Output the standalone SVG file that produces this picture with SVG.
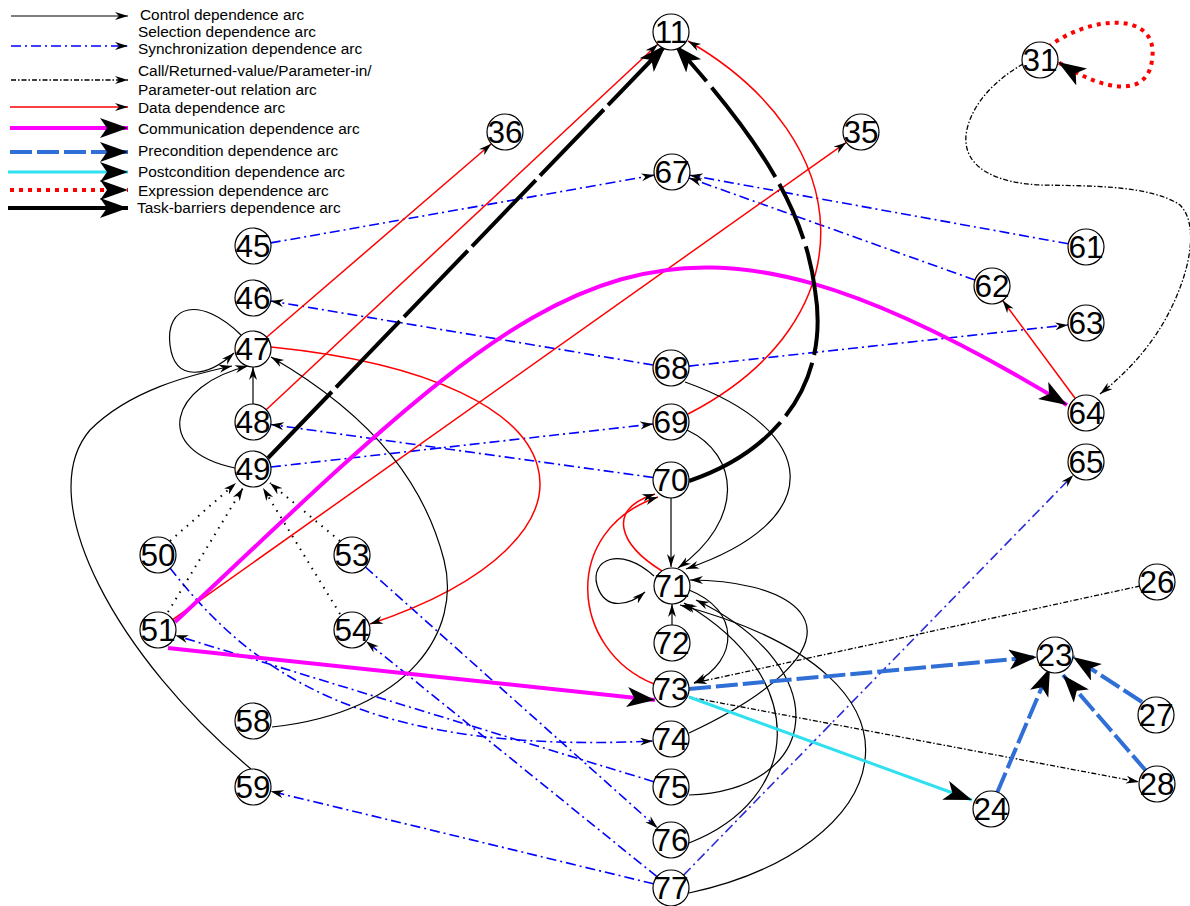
<svg xmlns="http://www.w3.org/2000/svg" width="1190" height="906" viewBox="0 0 1190 906">
<defs>
<style>
.bg{fill:#fff}
.ctl{stroke:#000;stroke-width:1.2;fill:none}
.sync{stroke:#0000ff;stroke-width:1.6;fill:none;stroke-dasharray:10 4 2 4}
.sync2{stroke:#2a2ad8;stroke-width:1.6;fill:none;stroke-dasharray:10 4 2 4}
.call{stroke:#000;stroke-width:1.3;fill:none;stroke-dasharray:5 2 1.5 2}
.dot{stroke:#000;stroke-width:2;fill:none;stroke-dasharray:1.5 6}
.data{stroke:#ff0000;stroke-width:1.5;fill:none}
.comm{stroke:#ff00ff;stroke-width:4;fill:none}
.pre{stroke:#2f6fd6;stroke-width:4;fill:none;stroke-dasharray:22 5}
.post{stroke:#30e0f0;stroke-width:3;fill:none}
.expr{stroke:#ff0000;stroke-width:4;fill:none;stroke-dasharray:4 5}
.task{stroke:#000;stroke-width:4;fill:none}
.gap{stroke-dasharray:92 6}
.gap2{stroke-dasharray:110 8 60 8}
.node circle{fill:#fff;stroke:#000;stroke-width:1.2}
.node text{font-family:"Liberation Sans",Arial,sans-serif;font-size:31.5px;text-anchor:middle;fill:#000}
.leg{font-family:"Liberation Sans",Arial,sans-serif;font-size:15.4px;fill:#000}
</style>
<marker id="a" markerUnits="userSpaceOnUse" markerWidth="14" markerHeight="9" refX="13" refY="4" orient="auto" viewBox="0 0 14 9">
<path d="M13,4 L0,0 L4,4 L0,8 z" fill="#000"/>
</marker>
<marker id="A" markerUnits="userSpaceOnUse" markerWidth="30" markerHeight="21" refX="28" refY="10" orient="auto" viewBox="0 0 30 21">
<path d="M28,10 L0,0 L7,10 L0,20 z" fill="#000"/>
</marker>
</defs>
<rect class="bg" x="0" y="0" width="1190" height="906"/>

<!-- legend -->
<g id="legend">
<line class="ctl" x1="11" y1="16" x2="128" y2="16" marker-end="url(#a)"/>
<text class="leg" x="140" y="19.5">Control dependence arc</text>
<text class="leg" x="138" y="36.7">Selection dependence arc</text>
<line class="sync" x1="11" y1="46" x2="128" y2="46" marker-end="url(#a)"/>
<text class="leg" x="138" y="54.3">Synchronization dependence arc</text>
<line class="call" x1="11" y1="80" x2="128" y2="80" marker-end="url(#a)"/>
<text class="leg" x="138" y="75.5">Call/Returned-value/Parameter-in/</text>
<text class="leg" x="138" y="94.5">Parameter-out relation arc</text>
<line class="data" x1="10" y1="107" x2="128" y2="107" marker-end="url(#a)"/>
<text class="leg" x="138" y="112.8">Data dependence arc</text>
<line class="comm" x1="10" y1="128" x2="128" y2="128" marker-end="url(#A)"/>
<text class="leg" x="138" y="133.5">Communication dependence arc</text>
<line class="pre" x1="10" y1="152" x2="128" y2="152" marker-end="url(#A)"/>
<text class="leg" x="138" y="156">Precondition dependence arc</text>
<line class="post" x1="8" y1="172" x2="128" y2="172" marker-end="url(#A)"/>
<text class="leg" x="138" y="176.8">Postcondition dependence arc</text>
<line class="expr" x1="10" y1="190" x2="128" y2="190" marker-end="url(#A)"/>
<text class="leg" x="138" y="195.5">Expression dependence arc</text>
<line class="task" x1="8" y1="208" x2="128" y2="208" marker-end="url(#A)"/>
<text class="leg" x="137" y="212.8">Task-barriers dependence arc</text>
</g>

<!-- connectors -->
<g id="connectors">
<!-- synchronization -->
<path class="sync" d="M270.7,242.9 L654.3,175.1" marker-end="url(#a)"/>
<path class="sync" d="M1068.3,243.8 L689.7,175.2" marker-end="url(#a)"/>
<path class="sync" d="M975,280 L689,178" marker-end="url(#a)"/>
<path class="sync" d="M653.2,365 L270.7,301" marker-end="url(#a)"/>
<path class="sync" d="M688.9,366.1 L1068.1,324.9" marker-end="url(#a)"/>
<path class="sync" d="M653.2,477.5 L270.8,424.5" marker-end="url(#a)"/>
<path class="sync" d="M270.9,467 L653.1,424" marker-end="url(#a)"/>
<path class="sync" d="M170,568 C250,670 360,755 653,741" marker-end="url(#a)"/>
<path class="sync" d="M653.8,781.7 L175.2,635.3" marker-end="url(#a)"/>
<path class="sync" d="M365.4,567 L657.6,828" marker-end="url(#a)"/>
<path class="sync" d="M657,876.7 L366,641.3" marker-end="url(#a)"/>
<path class="sync" d="M653.5,883.8 L270.5,791.2" marker-end="url(#a)"/>
<path class="sync2" d="M683.6,875.1 L1073.4,474.9" marker-end="url(#a)"/>

<!-- data -->
<path class="data" d="M266.6,337.3 L491.4,143.7" marker-end="url(#a)"/>
<path class="data" d="M266.2,409.7 L657.8,44.3" marker-end="url(#a)"/>
<path class="data" d="M172.7,619.6 L846.3,142.4" marker-end="url(#a)"/>
<path class="data" d="M1075.3,398.5 L1002.7,300.5" marker-end="url(#a)"/>
<path class="data" d="M271,347 C600,380 620,540 370,624" marker-end="url(#a)"/>
<path class="data" d="M688,414 C870,320 860,140 688,41" marker-end="url(#a)"/>
<path class="data" d="M654,684 C570,650 560,530 658,497" marker-end="url(#a)"/>
<path class="data" d="M662,571 C620,545 605,510 655,494" marker-end="url(#a)"/>

<!-- control -->
<path class="ctl" d="M241,335 C200,295 165,305 170,345 C175,385 210,375 234,353" marker-end="url(#a)"/>
<path class="ctl" d="M253,404 L253,367" marker-end="url(#a)"/>
<path class="ctl" d="M235,468 C150,450 170,385 248,366" marker-end="url(#a)"/>
<path class="ctl" d="M251,769 C120,660 30,500 90,430 C130,390 190,375 232,366" marker-end="url(#a)"/>
<path class="ctl" d="M272,727 C410,712 462,630 444,560 C426,490 380,420 271,357" marker-end="url(#a)"/>
<path class="ctl" d="M685,382 C820,430 830,520 686,569" marker-end="url(#a)"/>
<path class="ctl" d="M687,430 C740,455 745,520 678,568" marker-end="url(#a)"/>
<path class="ctl" d="M671,498 L671,567" marker-end="url(#a)"/>
<path class="ctl" d="M672,625 L672,604" marker-end="url(#a)"/>
<path class="ctl" d="M654,576 C620,545 590,560 597,585 C605,612 630,605 645,592" marker-end="url(#a)"/>
<path class="ctl" d="M689,590 C740,610 740,660 694,683" marker-end="url(#a)"/>
<path class="ctl" d="M689,733 C760,700 830,650 800,612 C780,588 730,580 690,580" marker-end="url(#a)"/>
<path class="ctl" d="M689,795 C820,790 840,670 696,600" marker-end="url(#a)"/>
<path class="ctl" d="M689,843 C800,800 815,680 684,603" marker-end="url(#a)"/>
<path class="ctl" d="M689,893 C890,850 960,680 680,605" marker-end="url(#a)"/>

<!-- call / parameter relations -->
<path class="call" d="M1023,64 C995,80 970,105 966,135 C963,170 1000,183 1040,185 C1090,186 1150,185 1180,205 C1200,225 1190,275 1165,320 C1145,355 1120,378 1100,394" marker-end="url(#a)"/>
<path class="call" d="M1140,586 L694,683" marker-end="url(#a)"/>
<path class="call" d="M689,697 L1139,782" marker-end="url(#a)"/>

<!-- dotted relations into 49 -->
<path class="dot" d="M170,541 L236,483" marker-end="url(#a)"/>
<path class="dot" d="M168,612 L243,488" marker-end="url(#a)"/>
<path class="dot" d="M340,541 L270,483" marker-end="url(#a)"/>
<path class="dot" d="M340,614 L263,488" marker-end="url(#a)"/>

<!-- communication -->
<path class="comm" d="M175,622 C555,265 647,150 1067,405" marker-end="url(#A)"/>
<path class="comm" d="M168,648 L655,700" marker-end="url(#A)"/>

<!-- precondition -->
<path class="pre" d="M689,689 L1037,657" marker-end="url(#A)"/>
<path class="pre" d="M997,793 L1050,668" marker-end="url(#A)"/>
<path class="pre" d="M1142,702 L1073,657" marker-end="url(#A)"/>
<path class="pre" d="M1147,772 L1063,675" marker-end="url(#A)"/>

<!-- postcondition -->
<path class="post" d="M689,697 L972,800" marker-end="url(#A)"/>

<!-- expression -->
<path class="expr" d="M1048,47 C1090,15 1160,10 1152,60 C1148,95 1110,95 1058,62" marker-end="url(#A)"/>

<!-- task barriers -->
<path class="task gap" d="M268,458 L666,45" marker-end="url(#A)"/>
<path class="task gap2" d="M689,481 C780,450 830,380 815,290 C805,210 760,140 675,45" marker-end="url(#A)"/>
</g>

<!-- nodes -->
<g id="n11" class="node"><circle cx="671" cy="32" r="18"/><text x="671" y="43">11</text></g>
<g id="n31" class="node"><circle cx="1040" cy="60" r="18"/><text x="1040" y="71">31</text></g>
<g id="n36" class="node"><circle cx="505" cy="132" r="18"/><text x="505" y="143">36</text></g>
<g id="n35" class="node"><circle cx="861" cy="132" r="18"/><text x="861" y="143">35</text></g>
<g id="n67" class="node"><circle cx="672" cy="172" r="18"/><text x="672" y="183">67</text></g>
<g id="n45" class="node"><circle cx="253" cy="246" r="18"/><text x="253" y="257">45</text></g>
<g id="n46" class="node"><circle cx="253" cy="298" r="18"/><text x="253" y="309">46</text></g>
<g id="n61" class="node"><circle cx="1086" cy="247" r="18"/><text x="1086" y="258">61</text></g>
<g id="n62" class="node"><circle cx="992" cy="286" r="18"/><text x="992" y="297">62</text></g>
<g id="n63" class="node"><circle cx="1086" cy="323" r="18"/><text x="1086" y="334">63</text></g>
<g id="n64" class="node"><circle cx="1086" cy="413" r="18"/><text x="1086" y="424">64</text></g>
<g id="n65" class="node"><circle cx="1086" cy="462" r="18"/><text x="1086" y="473">65</text></g>
<g id="n47" class="node"><circle cx="253" cy="349" r="18"/><text x="253" y="360">47</text></g>
<g id="n48" class="node"><circle cx="253" cy="422" r="18"/><text x="253" y="433">48</text></g>
<g id="n49" class="node"><circle cx="253" cy="469" r="18"/><text x="253" y="480">49</text></g>
<g id="n68" class="node"><circle cx="671" cy="368" r="18"/><text x="671" y="379">68</text></g>
<g id="n69" class="node"><circle cx="671" cy="422" r="18"/><text x="671" y="433">69</text></g>
<g id="n70" class="node"><circle cx="671" cy="480" r="18"/><text x="671" y="491">70</text></g>
<g id="n50" class="node"><circle cx="158" cy="555" r="18"/><text x="158" y="566">50</text></g>
<g id="n53" class="node"><circle cx="352" cy="555" r="18"/><text x="352" y="566">53</text></g>
<g id="n51" class="node"><circle cx="158" cy="630" r="18"/><text x="158" y="641">51</text></g>
<g id="n54" class="node"><circle cx="352" cy="630" r="18"/><text x="352" y="641">54</text></g>
<g id="n71" class="node"><circle cx="672" cy="586" r="18"/><text x="672" y="597">71</text></g>
<g id="n72" class="node"><circle cx="672" cy="643" r="18"/><text x="672" y="654">72</text></g>
<g id="n73" class="node"><circle cx="671" cy="689" r="18"/><text x="671" y="700">73</text></g>
<g id="n74" class="node"><circle cx="671" cy="739" r="18"/><text x="671" y="750">74</text></g>
<g id="n75" class="node"><circle cx="671" cy="787" r="18"/><text x="671" y="798">75</text></g>
<g id="n76" class="node"><circle cx="671" cy="840" r="18"/><text x="671" y="851">76</text></g>
<g id="n77" class="node"><circle cx="671" cy="888" r="18"/><text x="671" y="899">77</text></g>
<g id="n58" class="node"><circle cx="253" cy="721" r="18"/><text x="253" y="732">58</text></g>
<g id="n59" class="node"><circle cx="253" cy="787" r="18"/><text x="253" y="798">59</text></g>
<g id="n26" class="node"><circle cx="1157" cy="582" r="18"/><text x="1157" y="593">26</text></g>
<g id="n23" class="node"><circle cx="1055" cy="655" r="18"/><text x="1055" y="666">23</text></g>
<g id="n27" class="node"><circle cx="1156" cy="715" r="18"/><text x="1156" y="726">27</text></g>
<g id="n28" class="node"><circle cx="1157" cy="784" r="18"/><text x="1157" y="795">28</text></g>
<g id="n24" class="node"><circle cx="991" cy="809" r="18"/><text x="991" y="820">24</text></g>
</svg>
